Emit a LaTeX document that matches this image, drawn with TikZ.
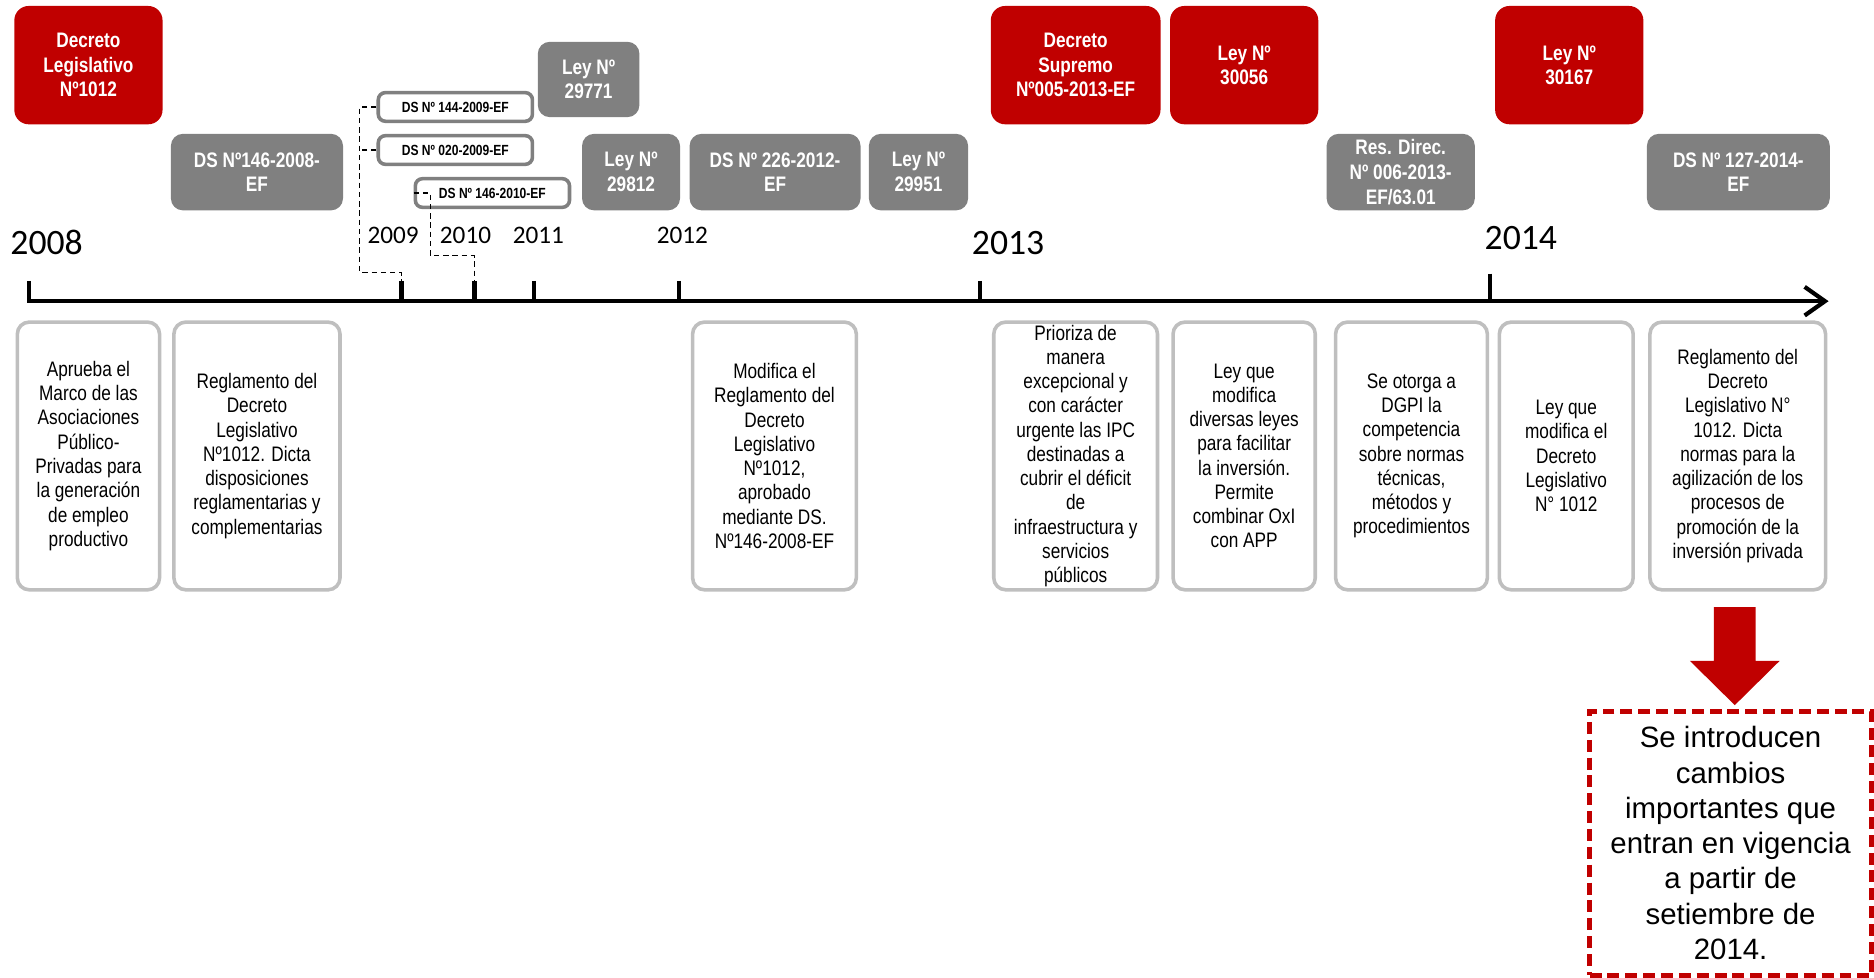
\documentclass[tikz,border=0pt]{standalone}
\usepackage{fontspec}
\setmainfont{Liberation Sans}
\newfontfamily\narrowfont[FakeStretch=0.82]{Liberation Sans}
\newfontfamily\yearfont{Carlito}
\usetikzlibrary{arrows.meta}
\definecolor{lawred}{HTML}{C00000}
\definecolor{lawgray}{HTML}{808080}
\definecolor{framegray}{HTML}{BFBFBF}

\tikzset{
    redbox/.style={fill=lawred, rounded corners=2.4mm, text=white, align=center,
        font={\narrowfont\bfseries\fontsize{10}{11.7}\selectfont},
        minimum height=19.8mm, inner sep=0pt},
    graybox/.style={fill=lawgray, rounded corners=2mm, text=white, align=center,
        font={\narrowfont\bfseries\fontsize{10}{11.7}\selectfont},
        minimum height=12.8mm, inner sep=0pt},
    dsbox/.style={draw=lawgray, line width=1.7pt, fill=white, rounded corners=1.2mm,
        font={\narrowfont\bfseries\fontsize{7}{8}\selectfont},
        minimum width=25.8mm, minimum height=4.8mm, inner sep=0pt},
    descbox/.style={draw=framegray, line width=1.7pt, rounded corners=2mm, align=center,
        font={\narrowfont\fontsize{10}{11.55}\selectfont},
        minimum height=44.8mm, inner sep=0pt},
    notebox/.style={draw=lawred, line width=2.4pt, dash pattern=on 5.7pt off 2.8pt,
        align=center, font={\fontsize{14}{16.8}\selectfont},
        minimum width=47.2mm, minimum height=44.2mm, inner sep=0pt},
    yearbig/.style={font={\yearfont\fontsize{17}{20}\selectfont}, inner sep=0pt},
    yearsmall/.style={font={\yearfont\fontsize{12}{14}\selectfont}, inner sep=0pt},
    axisline/.style={line width=2pt},
    link/.style={line width=0.7pt, dash pattern=on 2.6pt off 1.8pt}
}

\begin{document}
\begin{tikzpicture}[x=0.2mm, y=-0.2mm]
    \useasboundingbox (0,0) rectangle (1568,818);

    % normas principales
    \node[redbox, minimum width=24.8mm] (dl1012)  at (74,54.5)   {Decreto\\Legislativo\\Nº1012};
    \node[redbox, minimum width=28.4mm] (ds005)   at (900,54.5)  {Decreto\\Supremo\\Nº005-2013-EF};
    \node[redbox, minimum width=24.8mm] (ley30056) at (1041,54.5) {Ley Nº\\30056};
    \node[redbox, minimum width=24.8mm] (ley30167) at (1313,54.5) {Ley Nº\\30167};

    % normas complementarias
    \node[graybox, minimum width=17mm, minimum height=12.6mm] (ley29771) at (492.5,66.5) {Ley Nº\\29771};
    \node[graybox, minimum width=28.8mm] (ds146) at (215,144)    {DS Nº146-2008-\\EF};
    \node[graybox, minimum width=16.4mm] (ley29812) at (528,144) {Ley Nº\\29812};
    \node[graybox, minimum width=28.6mm] (ds226) at (648.5,144)  {DS Nº 226-2012-\\EF};
    \node[graybox, minimum width=16.6mm] (ley29951) at (768.5,144) {Ley Nº\\29951};
    \node[graybox, minimum width=24.8mm] (rd006) at (1172,144)   {Res. Direc.\\Nº 006-2013-\\EF/63.01};
    \node[graybox, minimum width=30.6mm] (ds127) at (1454.5,144) {DS Nº 127-2014-\\EF};

    \node[dsbox] (ds144) at (381,89.5)  {DS Nº 144-2009-EF};
    \node[dsbox] (ds020) at (381,125.5) {DS Nº 020-2009-EF};
    \node[dsbox] (ds1462010) at (412,161.5) {DS Nº 146-2010-EF};

    % anios
    \node[yearbig]   (y2008) at (39,203)    {2008};
    \node[yearsmall] (y2009) at (329,197)   {2009};
    \node[yearsmall] (y2010) at (389.5,197) {2010};
    \node[yearsmall] (y2011) at (450.5,197) {2011};
    \node[yearsmall] (y2012) at (571,197)   {2012};
    \node[yearbig]   (y2013) at (843.5,203) {2013};
    \node[yearbig]   (y2014) at (1272.5,199) {2014};

    % linea de tiempo
    \coordinate (t08) at (24,235);
    \coordinate (t09) at (336,235);
    \coordinate (t10) at (397,235);
    \coordinate (t11) at (447,235);
    \coordinate (t12) at (568,235);
    \coordinate (t13) at (820,235);
    \coordinate (t14) at (1247,229);
    \coordinate (fin) at (1530,252);

    \draw[axisline, -{Straight Barb[length=3.4mm, width=4.8mm]}] (t08) |- (fin);
    \draw[axisline] (t09) -- (336,252);
    \draw[axisline] (t10) -- (397,252);
    \draw[axisline] (t11) -- (447,252);
    \draw[axisline] (t12) -- (568,252);
    \draw[axisline] (t13) -- (820,252);
    \draw[axisline] (t14) -- (1247,252);

    \draw[link] (ds144.west) -| (301,228) -| (t09);
    \draw[link] (ds020.west) -- (301,125.5);
    \draw[link] (ds1462010.west) -| (360,214) -| (t10);

    % descripciones
    \node[descbox, minimum width=23.8mm] (txt1012) at (74,381.5)
        {Aprueba el\\Marco de las\\Asociaciones\\Público-\\Privadas para\\la generación\\de empleo\\productivo};
    \node[descbox, minimum width=27.8mm] (txt146) at (215,381.5)
        {Reglamento del\\Decreto\\Legislativo\\Nº1012. Dicta\\disposiciones\\reglamentarias y\\complementarias};
    \node[descbox, minimum width=27.4mm] (txt226) at (648,381.5)
        {Modifica el\\Reglamento del\\Decreto\\Legislativo\\Nº1012,\\aprobado\\mediante DS.\\Nº146-2008-EF};
    \node[descbox, minimum width=27.4mm] (txt005) at (900,381.5)
        {Prioriza de\\manera\\excepcional y\\con carácter\\urgente las IPC\\destinadas a\\cubrir el déficit\\de\\infraestructura y\\servicios\\públicos};
    \node[descbox, minimum width=23.8mm] (txt30056) at (1041,381.5)
        {Ley que\\modifica\\diversas leyes\\para facilitar\\la inversión.\\Permite\\combinar OxI\\con APP};
    \node[descbox, minimum width=25.4mm] (txt006) at (1181,381.5)
        {Se otorga a\\DGPI la\\competencia\\sobre normas\\técnicas,\\métodos y\\procedimientos};
    \node[descbox, minimum width=22.4mm] (txt30167) at (1310.5,381.5)
        {Ley que\\modifica el\\Decreto\\Legislativo\\N° 1012};
    \node[descbox, minimum width=29.4mm] (txt127) at (1454,381.5)
        {Reglamento del\\Decreto\\Legislativo N°\\1012. Dicta\\normas para la\\agilización de los\\procesos de\\promoción de la\\inversión privada};

    % flecha y nota final
    \fill[lawred] (1434,508) -- (1469,508) -- (1469,553) -- (1489,553)
        -- (1451.5,590) -- (1414,553) -- (1434,553) -- cycle;
    \node[notebox] (nota) at (1448,705.5)
        {Se introducen\\cambios\\importantes que\\entran en vigencia\\a partir de\\setiembre de\\2014.};
\end{tikzpicture}
\end{document}
